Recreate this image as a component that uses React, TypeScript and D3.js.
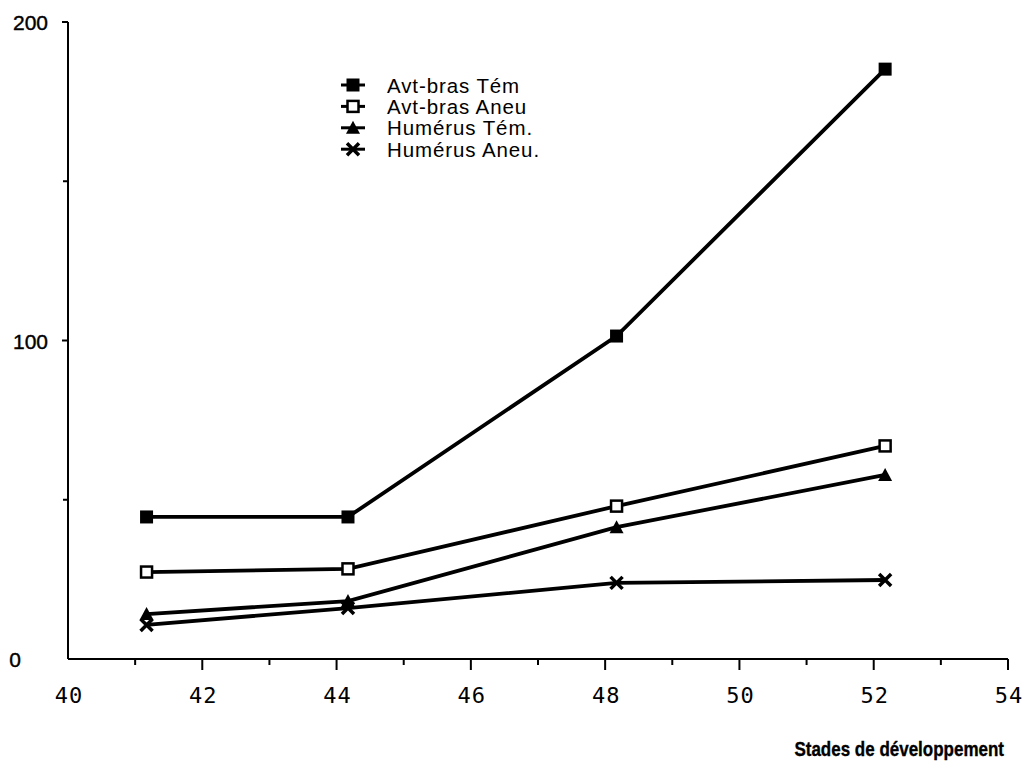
import { useEffect, useRef } from "react"
import * as d3 from "d3"

// Stades de développement
const stades = [41.17, 44.17, 48.17, 52.17]

const avtBrasTem = [44.6, 44.6, 101.4, 185.2]
const avtBrasAneu = [27.3, 28.3, 48.0, 66.9]
const humerusTem = [14.1, 18.2, 41.4, 57.8]
const humerusAneu = [10.7, 16.0, 23.9, 24.8]

const seriesNames = ["Avt-bras Tém", "Avt-bras Aneu", "Humérus Tém.", "Humérus Aneu."]
const seriesMarkers = ["filledSquare", "openSquare", "triangle", "cross"]

const xTicks = [40, 42, 44, 46, 48, 50, 52, 54]
const xMinorTicks = [41, 43, 45, 47, 49, 51, 53]
const yTicks = [0, 100, 200]
const yMinorTicks = [50, 150]

export default function App() {
  const svgRef = useRef<SVGSVGElement>(null)

  useEffect(() => {
    if (!svgRef.current) return
    const svg = d3.select(svgRef.current)
    svg.selectAll("*").remove()

    const x = d3.scaleLinear().domain([40, 54]).range([68, 1008])
    const y = d3.scaleLinear().domain([0, 200]).range([659, 22])

    const font = "'Liberation Sans', Arial, sans-serif"

    // axes
    svg.append("line")
      .attr("x1", x(40)).attr("x2", x(40))
      .attr("y1", y(200)).attr("y2", y(0))
      .attr("stroke", "#000").attr("stroke-width", 2)
    svg.append("line")
      .attr("x1", x(40)).attr("x2", x(54))
      .attr("y1", y(0)).attr("y2", y(0))
      .attr("stroke", "#000").attr("stroke-width", 2)

    svg.selectAll(".ytick")
      .data(yTicks.filter((d) => d > 0))
      .join("line")
      .attr("x1", x(40) - 6).attr("x2", x(40))
      .attr("y1", (d) => y(d)).attr("y2", (d) => y(d))
      .attr("stroke", "#000").attr("stroke-width", 2)
    svg.selectAll(".yminor")
      .data(yMinorTicks)
      .join("line")
      .attr("x1", x(40) - 5).attr("x2", x(40))
      .attr("y1", (d) => y(d)).attr("y2", (d) => y(d))
      .attr("stroke", "#000").attr("stroke-width", 2)

    svg.selectAll(".ylabel")
      .data(yTicks)
      .join("text")
      .attr("x", (d) => (d === 0 ? 21 : 48))
      .attr("y", (d) => y(d) + 8)
      .attr("text-anchor", "end")
      .attr("font-family", font)
      .attr("font-size", 21)
      .attr("stroke", "#000")
      .attr("stroke-width", 0.4)
      .text((d) => d)

    svg.selectAll(".xtick")
      .data(xTicks.filter((d) => d > 40))
      .join("line")
      .attr("x1", (d) => x(d)).attr("x2", (d) => x(d))
      .attr("y1", y(0)).attr("y2", y(0) + 11)
      .attr("stroke", "#000").attr("stroke-width", 2)
    svg.selectAll(".xminor")
      .data(xMinorTicks)
      .join("line")
      .attr("x1", (d) => x(d)).attr("x2", (d) => x(d))
      .attr("y1", y(0)).attr("y2", y(0) + 6)
      .attr("stroke", "#000").attr("stroke-width", 2)

    svg.selectAll(".xlabel")
      .data(xTicks)
      .join("text")
      .attr("x", (d) => x(d) + 1)
      .attr("y", 703)
      .attr("text-anchor", "middle")
      .attr("font-family", "'DejaVu Sans Mono', monospace")
      .attr("font-size", 22)
      .attr("letter-spacing", 1)
      .text((d) => d)

    svg.append("text")
      .attr("transform", "translate(1004,756) scale(1,1.18)")
      .attr("text-anchor", "end")
      .attr("font-family", font)
      .attr("font-weight", "bold")
      .attr("font-size", 17)
      .attr("stroke", "#000")
      .attr("stroke-width", 0.3)
      .text("Stades de développement")

    const allSeries = [avtBrasTem, avtBrasAneu, humerusTem, humerusAneu]

    const drawMarker = (g: d3.Selection<SVGGElement, unknown, null, undefined>, kind: string, cx: number, cy: number) => {
      if (kind === "filledSquare") {
        g.append("rect").attr("x", cx - 6.5).attr("y", cy - 6.5).attr("width", 13).attr("height", 13).attr("fill", "#000")
      } else if (kind === "openSquare") {
        g.append("rect").attr("x", cx - 5.5).attr("y", cy - 5.5).attr("width", 11).attr("height", 11)
          .attr("fill", "#fff").attr("stroke", "#000").attr("stroke-width", 2.5)
      } else if (kind === "triangle") {
        g.append("path").attr("d", `M${cx},${cy - 7}L${cx + 7},${cy + 6}L${cx - 7},${cy + 6}Z`).attr("fill", "#000")
      } else {
        g.append("path")
          .attr("d", `M${cx - 6},${cy - 6}L${cx + 6},${cy + 6}M${cx + 6},${cy - 6}L${cx - 6},${cy + 6}`)
          .attr("stroke", "#000").attr("stroke-width", 3.5)
      }
    }

    const line = d3.line<number>()
      .x((_, i) => x(stades[i]))
      .y((d) => y(d))

    allSeries.forEach((vals, si) => {
      svg.append("path")
        .attr("d", line(vals))
        .attr("fill", "none")
        .attr("stroke", "#000")
        .attr("stroke-width", 3.8)
      const g = svg.append("g")
      vals.forEach((v, i) => drawMarker(g, seriesMarkers[si], x(stades[i]), y(v)))
    })

    // legend
    seriesNames.forEach((name, i) => {
      const ly = 85 + i * 21.4
      svg.append("line")
        .attr("x1", 341).attr("x2", 365)
        .attr("y1", ly).attr("y2", ly)
        .attr("stroke", "#000").attr("stroke-width", 3)
      const g = svg.append("g")
      drawMarker(g, seriesMarkers[i], 353, ly)
      svg.append("text")
        .attr("x", 387).attr("y", ly + 7.5)
        .attr("font-family", font)
        .attr("font-size", 20.5)
        .attr("letter-spacing", 0.9)
        .text(name)
    })
  }, [])

  return (
    <svg ref={svgRef} width={1028} height={768}
      style={{ position: "absolute", left: 0, top: 0, background: "#fff" }} />
  )
}
